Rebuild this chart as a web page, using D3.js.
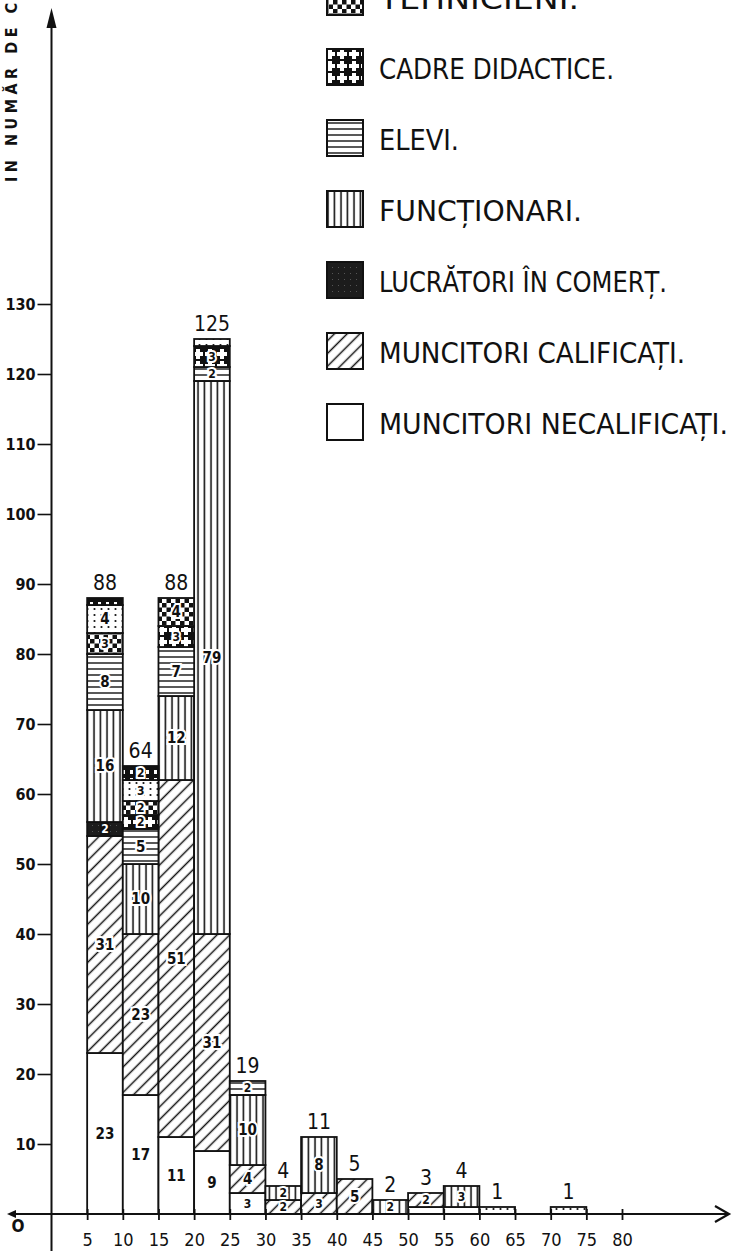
<!DOCTYPE html>
<html><head><meta charset="utf-8">
<script src="https://cdn.jsdelivr.net/npm/d3@7"></script>
<style>
html,body{margin:0;padding:0;background:#fff;}
svg{display:block;}
text{font-family:"DejaVu Sans Condensed","DejaVu Sans",sans-serif;fill:#111;}
</style></head><body>
<svg id="c" width="732" height="1251"></svg>
<script>
// ---- data ----
const binStart = [5,10,15,20,25,30,35,40,45,50,55,60,70];
const binWidth = 5;
const necalificati = [23,17,11,9,3,0,0,0,0,1,1,0,0];
const calificati   = [31,23,51,31,4,2,3,5,0,2,0,0,0];
const comert       = [2,0,0,0,0,0,0,0,0,0,0,0,0];
const functionari  = [16,10,12,79,10,2,8,0,2,0,3,0,0];
const elevi        = [8,5,7,2,2,0,0,0,0,0,0,0,0];
const cadre        = [0,2,3,3,0,0,0,0,0,0,0,0,0];
const tehnicieni   = [3,2,4,0,0,0,0,0,0,0,0,0,0];
const punctat      = [4,3,0,1,0,0,0,0,0,0,0,1,1];
const altii        = [1,2,0,0,0,0,0,0,0,0,0,0,0];
const seriesKeys = ["necalificati","calificati","comert","functionari","elevi","cadre","tehnicieni","punctat","altii"];
const seriesValues = {necalificati,calificati,comert,functionari,elevi,cadre,tehnicieni,punctat,altii};
const legendKeys  = ["tehnicieni","cadre","elevi","functionari","comert","calificati","necalificati"];
const legendLabels = ["TEHNICIENI.","CADRE DIDACTICE.","ELEVI.","FUNCȚIONARI.","LUCRĂTORI ÎN COMERȚ.","MUNCITORI CALIFICAȚI.","MUNCITORI NECALIFICAȚI."];
const xTicks = [5,10,15,20,25,30,35,40,45,50,55,60,65,70,75,80];
const yTicks = [10,20,30,40,50,60,70,80,90,100,110,120,130];
const yTitle = "IN NUMĂR DE CAZURI";

const INK = "#111";
const svg = d3.select("#c");
const x = d3.scaleLinear().domain([0,80]).range([51.5,622]);
const y = d3.scaleLinear().domain([0,130]).range([1214,304]);

// ---- patterns ----
const defs = svg.append("defs");
function pat(id,w,h,draw,transform){
  const p = defs.append("pattern").attr("id",id).attr("patternUnits","userSpaceOnUse")
    .attr("width",w).attr("height",h);
  if(transform) p.attr("patternTransform",transform);
  draw(p); return p;
}
pat("p-necalificati",10,10,p=>p.append("rect").attr("width",10).attr("height",10).attr("fill","#fff"));
pat("p-calificati",9,9,p=>{
  p.append("rect").attr("width",9).attr("height",9).attr("fill","#fff");
  p.append("line").attr("x1",4.5).attr("x2",4.5).attr("y1",0).attr("y2",9).attr("stroke",INK).attr("stroke-width",1.5);
},"rotate(45)");
pat("p-comert",6,6,p=>{
  p.append("rect").attr("width",6).attr("height",6).attr("fill","#1c1c1c");
  p.append("rect").attr("x",2).attr("y",3).attr("width",1).attr("height",1).attr("fill","#555");
});
pat("p-functionari",6.5,10,p=>{
  p.append("rect").attr("width",6.5).attr("height",10).attr("fill","#fff");
  p.append("line").attr("x1",3).attr("x2",3).attr("y1",0).attr("y2",10).attr("stroke",INK).attr("stroke-width",1.6);
});
pat("p-elevi",10,6,p=>{
  p.append("rect").attr("width",10).attr("height",6).attr("fill","#fff");
  p.append("line").attr("x1",0).attr("x2",10).attr("y1",3).attr("y2",3).attr("stroke",INK).attr("stroke-width",1.4);
});
pat("p-cadre",12,12,p=>{
  p.append("rect").attr("width",12).attr("height",12).attr("fill","#111");
  p.append("rect").attr("x",4).attr("y",1).attr("width",4).attr("height",10).attr("fill","#fff");
  p.append("rect").attr("x",1).attr("y",4).attr("width",10).attr("height",4).attr("fill","#fff");
});
pat("p-tehnicieni",9,9,p=>{
  p.append("rect").attr("width",9).attr("height",9).attr("fill","#fff");
  p.append("rect").attr("width",4.5).attr("height",4.5).attr("fill","#111");
  p.append("rect").attr("x",4.5).attr("y",4.5).attr("width",4.5).attr("height",4.5).attr("fill","#111");
});
pat("p-punctat",7,6,p=>{
  p.append("rect").attr("width",7).attr("height",6).attr("fill","#fff");
  p.append("circle").attr("cx",3.5).attr("cy",3).attr("r",1.1).attr("fill","#111");
});
pat("p-altii",8,8,p=>{
  p.append("rect").attr("width",8).attr("height",8).attr("fill","#111");
  p.append("rect").attr("x",2).attr("y",2).attr("width",3).attr("height",4).attr("fill","#fff");
});

// ---- stacked bars ----
const rows = binStart.map((s,i)=>{
  const r = {start:s};
  seriesKeys.forEach(k=>r[k]=seriesValues[k][i]);
  return r;
});
const stack = d3.stack().keys(seriesKeys)(rows);
const gBars = svg.append("g");
stack.forEach(layer=>{
  gBars.selectAll(null).data(layer.filter(d=>d[1]-d[0]>0)).join("rect")
    .attr("x",d=>x(d.data.start)).attr("width",d=>x(d.data.start+binWidth)-x(d.data.start))
    .attr("y",d=>y(d[1])).attr("height",d=>y(d[0])-y(d[1]))
    .attr("fill",`url(#p-${layer.key})`).attr("stroke",INK).attr("stroke-width",1.8);
});
// segment labels
const gLab = svg.append("g");
stack.forEach(layer=>{
  gLab.selectAll(null).data(layer.filter(d=>d[1]-d[0]>=2)).join("text")
    .attr("x",d=>(x(d.data.start)+x(d.data.start+binWidth))/2)
    .attr("y",d=>(y(d[0])+y(d[1]))/2)
    .attr("text-anchor","middle").attr("dominant-baseline","central")
    .attr("font-size",d=>(d[1]-d[0])>=4?15:12).attr("font-weight","bold")
    .attr("stroke",layer.key==="comert"?"#111":"#fff").attr("stroke-width",4).attr("paint-order","stroke")
    .style("fill",layer.key==="comert"?"#fff":INK)
    .text(d=>d[1]-d[0]);
});
// totals
const totals = rows.map(r=>({start:r.start,total:d3.sum(seriesKeys,k=>r[k])}));
svg.append("g").selectAll("text").data(totals).join("text")
  .attr("x",d=>(x(d.start)+x(d.start+binWidth))/2)
  .attr("y",d=>y(d.total)-8)
  .attr("text-anchor","middle")
  .attr("font-size",21)
  .text(d=>d.total);

// ---- axes ----
const gx = svg.append("g").attr("transform",`translate(0,${y(0)})`)
  .call(d3.axisBottom(x).tickValues(xTicks).tickSize(6).tickPadding(13).tickSizeOuter(0));
gx.select(".domain").remove();
gx.selectAll(".tick line").attr("y1",-5).attr("y2",6).attr("stroke",INK).attr("stroke-width",1.8);
gx.selectAll(".tick text").attr("font-size",18).style("fill",INK);

const gy = svg.append("g").attr("transform",`translate(${x(0)},0)`)
  .call(d3.axisLeft(y).tickValues(yTicks).tickSize(14).tickPadding(2).tickSizeOuter(0));
gy.select(".domain").remove();
gy.selectAll(".tick line").attr("stroke",INK).attr("stroke-width",1.6);
gy.selectAll(".tick text").attr("font-size",16).attr("font-weight","bold").style("fill",INK);

// axis lines
svg.append("line").attr("x1",x(0)).attr("x2",x(0)).attr("y1",1251).attr("y2",22).attr("stroke",INK).attr("stroke-width",2);
svg.append("path").attr("d",`M${x(0)},8 L${x(0)-5},28 L${x(0)+5},28 Z`).attr("fill",INK);
svg.append("line").attr("x1",10).attr("x2",729).attr("y1",y(0)).attr("y2",y(0)).attr("stroke",INK).attr("stroke-width",2);
svg.append("path").attr("d",`M715,${y(0)-8} L729,${y(0)} L715,${y(0)+8}`).attr("fill","none").attr("stroke",INK).attr("stroke-width",2.2);
svg.append("path").attr("d",`M7,${y(0)} L16,${y(0)-4} L16,${y(0)+4} Z`).attr("fill",INK);
svg.append("text").attr("x",18).attr("y",y(0)+18).attr("text-anchor","middle").attr("font-size",17).attr("font-weight","bold").text("O");

// y title
svg.append("text").attr("transform","translate(17,182) rotate(-90)")
  .attr("font-size",16).attr("font-weight","bold").attr("letter-spacing",4.5).text(yTitle);

// ---- legend ----
const legY = [-21,49,120,191,262,333,404];
const legW = [200,235,80,203,288,306,349];
const gLeg = svg.append("g");
legendKeys.forEach((k,i)=>{
  gLeg.append("rect").attr("x",327).attr("y",legY[i]).attr("width",36).attr("height",36)
    .attr("fill",`url(#p-${k})`).attr("stroke",INK).attr("stroke-width",2);
  gLeg.append("text").attr("x",379).attr("y",legY[i]+30).attr("font-size",29)
    .attr("textLength",legW[i]).attr("lengthAdjust","spacingAndGlyphs").text(legendLabels[i]);
});
</script>
</body></html>
